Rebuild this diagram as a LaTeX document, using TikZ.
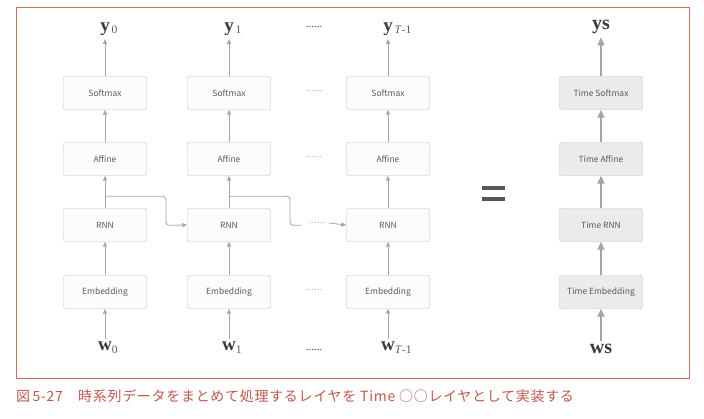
\documentclass[tikz,border=0pt]{standalone}
\usepackage{fontspec}
\setmainfont{Liberation Serif}
\newfontfamily\jpfont{Noto Sans CJK JP}
\newfontfamily\capfont[LetterSpace=5]{Noto Sans CJK JP}
\usetikzlibrary{arrows.meta}
\definecolor{ink}{HTML}{3A3A3A}
\definecolor{label}{HTML}{5A5A5A}
\definecolor{edge}{HTML}{BEBEBE}
\definecolor{flow}{HTML}{A4A4A4}
\definecolor{paper}{HTML}{FCFCFA}
\definecolor{shade}{HTML}{ECEBE9}
\definecolor{frame}{HTML}{C96C60}
\definecolor{capred}{HTML}{C0574B}

\begin{document}
\begin{tikzpicture}[x=1pt,y=-1pt,
  layer/.style={draw=edge,fill=paper,rounded corners=2pt,
    minimum width=83pt,minimum height=33pt,text=label,
    font=\jpfont\fontsize{8.5}{8.5}\selectfont},
  tlayer/.style={layer,fill=shade},
  flowline/.style={->,draw=flow,line width=.8pt,
    >={Triangle[width=4pt,length=5pt]}},
  tflow/.style={->,draw=flow,line width=1.7pt,
    >={Triangle[width=7pt,length=8pt]}},
  vec/.style={text=ink,font=\fontsize{19}{19}\selectfont\bfseries},
  gap/.style={text=flow!80,font=\fontsize{11}{11}\selectfont},
  gapdark/.style={text=ink,font=\fontsize{11}{11}\selectfont}]
  \useasboundingbox (0,0) rectangle (704,418);
  \draw[frame,line width=1pt] (16,7) rectangle (689,378);

  % Unrolled RNN layers, one column per time step
  \foreach \x/\n/\s in {105/a/0,229/b/1,388/c/{\textit{T}-1}}{
    \node[layer] (soft\n) at (\x,93)  {Softmax};
    \node[layer] (aff\n)  at (\x,159) {Affine};
    \node[layer] (rnn\n)  at (\x,225) {RNN};
    \node[layer] (emb\n)  at (\x,292) {Embedding};
    \node[vec] (y\n) at (\x,29)
      {y\rlap{\raisebox{-2pt}{\color{label}\fontsize{11.5}{11.5}\selectfont\mdseries\,\s}}};
    \node[vec] (w\n) at (\x,348)
      {w\rlap{\raisebox{-3pt}{\color{label}\fontsize{11.5}{11.5}\selectfont\mdseries\s}}};
    \draw[flowline] (w\n) -- (emb\n);
    \draw[flowline] (emb\n) -- (rnn\n);
    \draw[flowline] (rnn\n) -- (aff\n);
    \draw[flowline] (aff\n) -- (soft\n);
    \draw[flowline] (soft\n) -- (y\n);
  }

  % Hidden state passed to the next step
  \draw[flowline,rounded corners=3pt] (rnna.north) ++(0,-12) -| ++(61,29)
    -- (rnnb.west);
  \draw[draw=flow,line width=.8pt,rounded corners=3pt]
    (rnnb.north) ++(0,-12) -| ++(61,29) -- ++(11,0);
  \node[gap] (rdots) at (317,223) {......};
  \draw[flowline] (rdots.east) -- (rnnc.west);

  % Ellipses between step 1 and step T-1
  \node[gapdark] (ydots) at (314,27)  {......};
  \node[gap]     (sdots) at (314,91)  {......};
  \node[gap]     (adots) at (314,157) {......};
  \node[gap]     (edots) at (314,290) {......};
  \node[gapdark] (wdots) at (314,350) {......};

  % Equals sign
  \fill[ink!85] (482,186) rectangle (505,189.5);
  \fill[ink!85] (482,197) rectangle (505,200.5);

  % Time layers
  \node[tlayer] (tsoft) at (601,93)  {Time Softmax};
  \node[tlayer] (taff)  at (601,159) {Time Affine};
  \node[tlayer] (trnn)  at (601,225) {Time RNN};
  \node[tlayer] (temb)  at (601,292) {Time Embedding};
  \node[vec,font=\fontsize{20}{20}\selectfont\bfseries] (ys) at (601,27) {ys};
  \node[vec,font=\fontsize{20}{20}\selectfont\bfseries] (ws) at (601,349) {ws};
  \draw[tflow] (ws) -- (temb);
  \draw[tflow] (temb) -- (trnn);
  \draw[tflow] (trnn) -- (taff);
  \draw[tflow] (taff) -- (tsoft);
  \draw[tflow] (tsoft) -- (ys);

  \node[anchor=base west,inner sep=0,text=capred,
    font=\capfont\fontsize{14}{14}\selectfont] (cap) at (16,401)
    {図\,5-27\hspace{1.1em}時系列データをまとめて処理するレイヤを Time ○○レイヤとして実装する};
\end{tikzpicture}
\end{document}
